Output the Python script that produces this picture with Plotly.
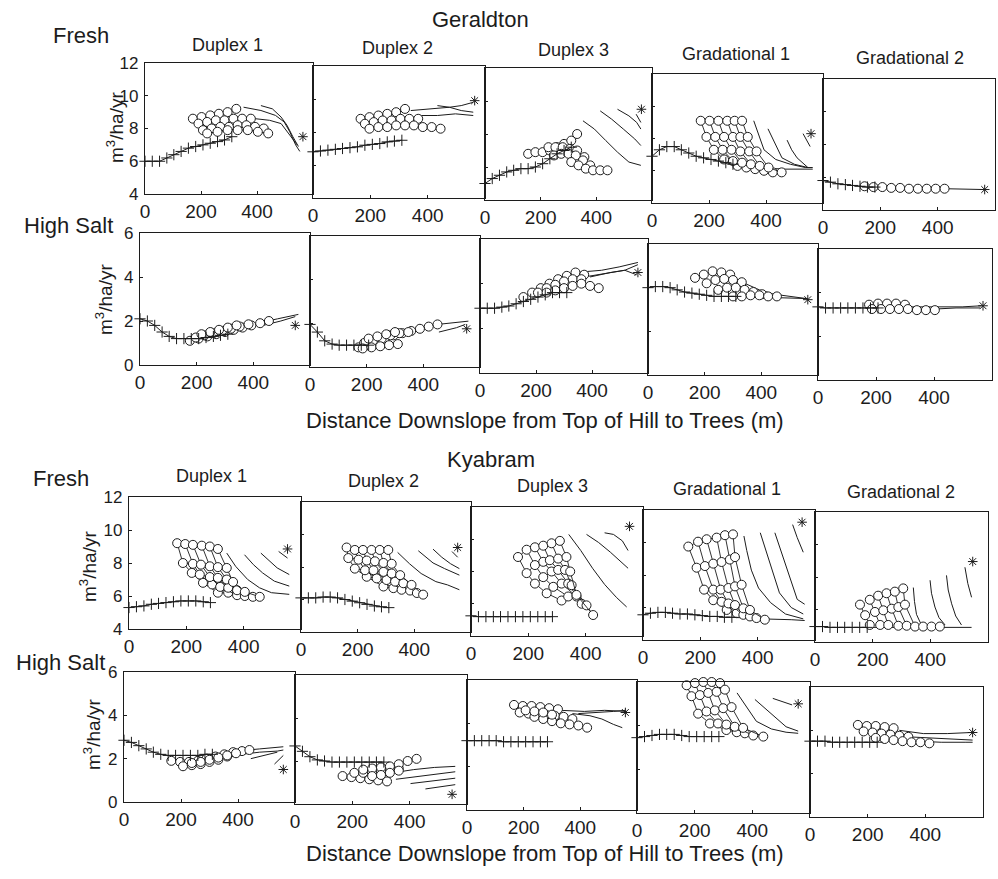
import plotly.graph_objects as go

# ---------------- data (x in m downslope, y in m3/ha/yr) ----------------
# Geraldton - Fresh
gf1_plus_x = [0, 26, 52, 78, 103, 129, 155, 181, 207, 233, 259, 284, 310]
gf1_plus_y = [6.0, 6.0, 6.0, 6.2, 6.4, 6.6, 6.8, 6.9, 7.0, 7.1, 7.2, 7.3, 7.5]
gf1_circ = [
    [[171, 202, 233, 264, 295, 326], [8.6, 8.7, 8.8, 8.9, 9.0, 9.2]],
    [[191, 222, 253, 284, 316, 347, 378], [8.3, 8.4, 8.5, 8.5, 8.6, 8.6, 8.6]],
    [[207, 238, 269, 300, 331, 362, 393, 424], [7.9, 8.0, 8.1, 8.1, 8.2, 8.2, 8.1, 8.0]],
    [[222, 259, 295, 331, 367, 403, 440], [7.7, 7.8, 7.9, 7.9, 7.9, 7.8, 7.7]],
]
gf1_line = [
    [[352, 414, 466, 497, 517, 538, 553], [9.3, 9.1, 8.8, 8.4, 7.8, 7.0, 6.6]],
    [[414, 455, 486, 507, 528, 548], [9.4, 9.2, 8.7, 8.2, 7.5, 6.9]],
    [[341, 393, 445, 486, 517, 543], [8.6, 8.6, 8.5, 8.3, 7.6, 7.0]],
]
gf1_star = [564, 7.5]

gf2_plus_x = [0, 26, 52, 78, 103, 129, 155, 181, 207, 233, 259, 284, 310]
gf2_plus_y = [6.8, 6.85, 6.9, 6.95, 7.0, 7.05, 7.1, 7.2, 7.25, 7.3, 7.4, 7.45, 7.5]
gf2_circ = [
    [[166, 197, 228, 259, 290, 321], [8.8, 8.9, 9.0, 9.1, 9.2, 9.4]],
    [[181, 212, 243, 274, 305, 336, 367], [8.5, 8.6, 8.7, 8.7, 8.8, 8.8, 8.8]],
    [[197, 228, 259, 290, 321, 352, 383, 414, 445], [8.2, 8.3, 8.3, 8.4, 8.4, 8.4, 8.3, 8.3, 8.2]],
]
gf2_line = [
    [[341, 414, 476, 517, 559], [9.3, 9.4, 9.5, 9.6, 9.8]],
    [[434, 476, 517, 559], [9.6, 9.5, 9.3, 9.2]],
    [[362, 434, 497, 559], [9.0, 9.0, 9.1, 9.0]],
]
gf2_star = [564, 9.9]

gf3_plus_x = [0, 26, 52, 78, 103, 129, 155, 181, 207, 233, 259, 284, 310]
gf3_plus_y = [5.0, 5.3, 5.5, 5.7, 5.8, 5.9, 5.9, 6.0, 6.2, 6.5, 6.8, 7.0, 7.2]
gf3_circ = [
    [[155, 181, 207, 233, 259, 284, 310, 331], [6.8, 6.9, 6.9, 7.0, 7.2, 7.4, 7.6, 8.0]],
    [[228, 253, 279, 305, 331, 357], [7.2, 7.2, 7.2, 7.1, 7.0, 6.6]],
    [[248, 274, 300, 326, 352, 378], [6.7, 6.8, 6.8, 6.7, 6.4, 6.1]],
    [[310, 336, 362, 388, 414, 440], [6.3, 6.1, 5.9, 5.8, 5.8, 5.8]],
]
gf3_line = [
    [[352, 393, 434, 476, 517, 560], [8.8, 8.3, 7.6, 6.9, 6.3, 6.1]],
    [[414, 455, 497, 538, 560], [9.4, 8.9, 8.3, 7.7, 7.3]],
    [[476, 517, 545, 560], [9.5, 9.1, 8.7, 8.3]],
    [[543, 555, 560], [9.2, 8.9, 8.7]],
]
gf3_star = [562, 9.5]

gf4_plus_x = [0, 26, 52, 78, 103, 129, 155, 181, 207, 233, 259, 284]
gf4_plus_y = [6.9, 7.3, 7.5, 7.5, 7.3, 7.1, 6.9, 6.8, 6.7, 6.6, 6.5, 6.4]
gf4_circ = [
    [[171, 191, 217, 253, 300], [9.1, 8.1, 7.3, 6.7, 6.3]],
    [[202, 222, 248, 284, 331], [9.1, 8.1, 7.3, 6.6, 6.2]],
    [[233, 253, 279, 316, 362], [9.1, 8.1, 7.3, 6.5, 6.1]],
    [[264, 284, 310, 347, 393], [9.1, 8.1, 7.2, 6.4, 6.0]],
    [[290, 310, 341, 378, 424], [9.1, 8.1, 7.2, 6.3, 5.9]],
    [[316, 336, 367, 409, 455], [9.1, 8.1, 7.2, 6.2, 5.9]],
]
gf4_line = [
    [[284, 362, 466, 564], [6.4, 6.2, 6.1, 6.1]],
    [[357, 372, 393, 434, 486, 538, 564], [9.1, 8.3, 7.3, 6.7, 6.4, 6.2, 6.2]],
    [[407, 431, 456, 500, 547], [8.6, 7.7, 6.8, 6.4, 6.2]],
    [[474, 490, 509, 547], [7.9, 7.3, 6.8, 6.2]],
    [[530, 555], [8.3, 7.5]],
]
gf4_star = [558, 8.3]

gf5_plus_x = [0, 26, 52, 78, 103, 129, 155, 181]
gf5_plus_y = [5.8, 5.7, 5.6, 5.55, 5.5, 5.45, 5.4, 5.4]
gf5_circ = [
    [[145, 176, 207, 238, 269, 300, 331, 362, 393, 424],
     [5.45, 5.4, 5.4, 5.35, 5.35, 5.3, 5.3, 5.3, 5.3, 5.3]],
]
gf5_line = [
    [[424, 497, 559], [5.3, 5.25, 5.25]],
]
gf5_star = [564, 5.25]

# Geraldton - High Salt
gs1_plus_x = [0, 26, 52, 78, 103, 129, 155, 181, 207, 233, 259, 284, 310]
gs1_plus_y = [2.1, 2.0, 1.8, 1.5, 1.3, 1.2, 1.2, 1.2, 1.2, 1.25, 1.3, 1.35, 1.4]
gs1_circ = [
    [[176, 207, 238, 269, 300, 331, 362, 393, 424, 455], [1.1, 1.2, 1.3, 1.4, 1.5, 1.6, 1.7, 1.8, 1.9, 2.0]],
    [[197, 228, 259, 290, 321, 352, 383], [1.25, 1.35, 1.45, 1.55, 1.65, 1.75, 1.85]],
    [[217, 248, 279, 310, 341], [1.4, 1.5, 1.6, 1.7, 1.8]],
]
gs1_line = [
    [[310, 414, 486, 559], [1.55, 1.9, 2.1, 2.3]],
    [[434, 497, 548], [1.8, 2.0, 2.2]],
]
gs1_star = [548, 1.8]

gs2_plus_x = [0, 26, 52, 78, 103, 129, 155, 181, 207]
gs2_plus_y = [1.95, 1.6, 1.2, 1.05, 1.0, 1.0, 1.0, 1.0, 1.0]
gs2_circ = [
    [[171, 202, 233, 264, 295, 326, 357, 388, 419, 450], [0.9, 1.0, 1.15, 1.3, 1.45, 1.55, 1.65, 1.75, 1.85, 1.95]],
    [[191, 222, 253, 284, 316, 347], [1.1, 1.2, 1.3, 1.45, 1.55, 1.6]],
    [[207, 238, 269, 300], [1.3, 1.4, 1.5, 1.6]],
    [[186, 217, 248, 279, 310], [0.85, 0.9, 0.95, 1.0, 1.05]],
]
gs2_line = [
    [[414, 486, 559], [1.9, 2.0, 2.1]],
    [[455, 517, 548], [1.6, 1.8, 1.95]],
]
gs2_star = [553, 1.75]

gs3_plus_x = [0, 26, 52, 78, 103, 129, 155, 181, 207, 233, 259, 284, 310]
gs3_plus_y = [2.9, 2.9, 2.9, 2.95, 3.0, 3.1, 3.2, 3.3, 3.4, 3.5, 3.6, 3.6, 3.6]
gs3_circ = [
    [[155, 186, 217, 248, 279, 310, 341, 372], [3.4, 3.6, 3.8, 4.0, 4.2, 4.35, 4.5, 4.4]],
    [[207, 238, 269, 300, 331, 362], [3.6, 3.8, 3.95, 4.1, 4.2, 4.2]],
    [[238, 269, 300, 331, 362, 393, 424], [3.6, 3.7, 3.8, 3.9, 4.0, 3.9, 3.8]],
]
gs3_line = [
    [[341, 434, 497, 564], [4.5, 4.6, 4.75, 4.95]],
    [[372, 445, 517, 564], [4.3, 4.45, 4.6, 4.85]],
    [[393, 466, 517, 559], [4.3, 4.5, 4.6, 4.4]],
]
gs3_star = [564, 4.5]

gs4_plus_x = [0, 26, 52, 78, 103, 129, 155, 181, 207, 233, 259, 284, 310]
gs4_plus_y = [4.0, 4.05, 4.05, 4.0, 3.9, 3.8, 3.75, 3.7, 3.65, 3.6, 3.6, 3.6, 3.6]
gs4_circ = [
    [[166, 197, 228, 259, 290], [4.45, 4.6, 4.75, 4.7, 4.6]],
    [[207, 238, 269, 300, 331], [4.2, 4.35, 4.4, 4.35, 4.25]],
    [[248, 279, 310, 341, 372, 403], [3.9, 4.0, 4.0, 3.9, 3.8, 3.7]],
    [[300, 331, 362, 393, 424, 455], [3.6, 3.6, 3.65, 3.65, 3.6, 3.6]],
]
gs4_line = [
    [[310, 414, 517, 564], [3.6, 3.55, 3.5, 3.5]],
    [[341, 393, 445, 497, 559], [4.2, 3.9, 3.7, 3.6, 3.5]],
]
gs4_star = [564, 3.45]

gs5_plus_x = [0, 26, 52, 78, 103, 129, 155, 181, 207]
gs5_plus_y = [3.35, 3.3, 3.3, 3.3, 3.3, 3.3, 3.3, 3.3, 3.3]
gs5_circ = [
    [[176, 207, 238, 269, 300], [3.45, 3.5, 3.5, 3.5, 3.45]],
    [[186, 217, 248, 279, 310, 341, 372, 403], [3.25, 3.25, 3.25, 3.25, 3.25, 3.2, 3.2, 3.2]],
]
gs5_line = [
    [[310, 414, 497, 564], [3.35, 3.35, 3.35, 3.4]],
    [[403, 476, 559], [3.25, 3.3, 3.3]],
]
gs5_star = [569, 3.4]

# Kyabram - Fresh
kf1_plus_x = [0, 26, 52, 78, 103, 129, 155, 181, 207, 233, 259, 284]
kf1_plus_y = [5.3, 5.35, 5.4, 5.5, 5.55, 5.6, 5.65, 5.7, 5.7, 5.7, 5.65, 5.6]
kf1_circ = [
    [[168, 188, 219, 258, 310], [9.2, 8.0, 7.4, 6.8, 6.2]],
    [[196, 223, 247, 290, 346], [9.15, 7.95, 7.3, 6.7, 6.2]],
    [[223, 251, 282, 318, 377], [9.1, 7.9, 7.15, 6.55, 6.05]],
    [[254, 282, 310, 346, 404], [9.05, 7.8, 7.1, 6.5, 6.0]],
    [[282, 310, 341, 377, 432], [9.0, 7.75, 7.0, 6.35, 5.95]],
    [[310, 341, 363, 404, 456], [8.85, 7.7, 6.85, 6.25, 5.95]],
]
kf1_line = [
    [[341, 372, 414, 455, 497, 559], [8.6, 7.8, 7.0, 6.5, 6.2, 6.1]],
    [[403, 434, 466, 507, 559], [8.5, 7.9, 7.4, 6.9, 6.6]],
    [[460, 491, 517, 559], [8.6, 8.1, 7.7, 7.3]],
    [[522, 553], [8.7, 8.3]],
]
kf1_star = [553, 8.85]

kf2_plus_x = [0, 26, 52, 78, 103, 129, 155, 181, 207, 233, 259, 284, 310]
kf2_plus_y = [6.1, 6.1, 6.1, 6.15, 6.15, 6.1, 6.0, 5.9, 5.8, 5.7, 5.6, 5.55, 5.5]
kf2_circ = [
    [[161, 167, 190, 232, 291], [9.2, 8.55, 7.9, 7.4, 6.8]],
    [[190, 203, 226, 267, 326], [9.05, 8.45, 7.8, 7.3, 6.7]],
    [[219, 232, 256, 302, 355], [9.05, 8.4, 7.8, 7.2, 6.6]],
    [[249, 261, 291, 332, 385], [9.05, 8.35, 7.7, 7.1, 6.55]],
    [[278, 291, 320, 361, 409], [9.05, 8.25, 7.6, 7.0, 6.4]],
    [[308, 320, 350, 390, 431], [9.05, 8.2, 7.5, 6.9, 6.3]],
]
kf2_line = [
    [[341, 383, 424, 476, 517, 559], [8.9, 8.2, 7.6, 7.1, 6.9, 6.6]],
    [[414, 466, 507, 559], [9.0, 8.25, 7.9, 7.5]],
    [[466, 497, 528, 559], [9.1, 8.6, 8.2, 7.9]],
    [[533, 553], [8.95, 8.6]],
]
kf2_star = [553, 9.2]

kf3_plus_x = [0, 26, 52, 78, 103, 129, 155, 181, 207, 233, 259, 284]
kf3_plus_y = [5.25, 5.2, 5.2, 5.2, 5.2, 5.2, 5.2, 5.2, 5.2, 5.2, 5.2, 5.2]
kf3_circ = [
    [[164, 194, 223, 264, 316], [8.9, 7.9, 7.25, 6.65, 6.2]],
    [[194, 223, 252, 287, 339], [9.35, 8.4, 7.65, 7.05, 6.45]],
    [[223, 252, 281, 316, 368], [9.5, 8.6, 8.0, 7.25, 6.45]],
    [[252, 275, 304, 339, 386], [9.6, 8.7, 8.1, 7.25, 6.0]],
    [[281, 304, 328, 351, 403], [9.75, 8.8, 8.1, 7.15, 5.9]],
    [[310, 333, 346, 368, 426], [9.9, 8.9, 8.0, 6.55, 5.3]],
]
kf3_line = [
    [[341, 383, 424, 466, 507, 543], [10.3, 9.3, 8.2, 7.2, 6.4, 5.8]],
    [[403, 445, 486, 528, 548], [10.3, 9.8, 9.2, 8.5, 8.2]],
    [[466, 497, 528, 548], [10.4, 10.3, 9.9, 9.3]],
]
kf3_star = [553, 10.8]

kf4_plus_x = [0, 26, 52, 78, 103, 129, 155, 181, 207, 233, 259, 284, 310]
kf4_plus_y = [5.55, 5.65, 5.7, 5.7, 5.65, 5.6, 5.6, 5.55, 5.5, 5.45, 5.45, 5.4, 5.4]
kf4_circ = [
    [[158, 187, 213, 245, 292], [9.75, 8.45, 7.1, 6.45, 5.85]],
    [[192, 216, 245, 274, 327], [10.05, 8.55, 7.1, 6.35, 5.65]],
    [[222, 245, 271, 298, 350], [10.2, 8.7, 7.1, 6.25, 5.55]],
    [[257, 274, 298, 321, 373], [10.3, 8.8, 7.2, 6.15, 5.45]],
    [[286, 303, 321, 350, 396], [10.45, 8.95, 7.3, 5.95, 5.35]],
    [[314, 321, 344, 373, 425], [10.5, 9.1, 7.4, 5.85, 5.25]],
]
kf4_line = [
    [[310, 414, 517, 564], [5.4, 5.3, 5.25, 5.2]],
    [[352, 362, 378, 403, 445, 497, 559], [10.4, 9.5, 8.3, 7.2, 6.3, 5.6, 5.3]],
    [[409, 429, 445, 476, 517, 559], [10.6, 9.5, 8.5, 6.9, 6.0, 5.6]],
    [[460, 486, 507, 538, 564], [10.6, 9.2, 8.2, 6.5, 6.2]],
    [[522, 538, 559], [11.1, 10.3, 9.4]],
]
kf4_star = [555, 11.25]

kf5_plus_x = [0, 26, 52, 78, 103, 129, 155, 181]
kf5_plus_y = [4.95, 4.95, 4.9, 4.9, 4.9, 4.9, 4.9, 4.9]
kf5_circ = [
    [[156, 174, 190], [6.3, 5.65, 5.05]],
    [[190, 208, 226], [6.6, 5.85, 5.05]],
    [[219, 237, 254], [6.85, 5.95, 5.05]],
    [[248, 266, 289], [7.0, 6.05, 5.0]],
    [[277, 289, 318], [7.1, 6.15, 5.0]],
    [[306, 312, 347], [7.3, 6.3, 4.95]],
]
kf5_circ_tail = [[375, 404, 433], [4.95, 4.95, 4.95]]
kf5_line = [
    [[181, 310, 434, 543], [4.9, 4.9, 4.9, 4.9]],
    [[341, 345, 352, 365, 381], [7.35, 6.5, 5.7, 5.2, 4.95]],
    [[399, 404, 416, 430, 451], [7.8, 7.0, 6.15, 5.5, 5.05]],
    [[456, 462, 474, 488, 508], [8.1, 7.2, 6.35, 5.6, 5.05]],
    [[520, 530, 543], [8.6, 7.6, 6.75]],
]
kf5_star = [547, 8.95]

# Kyabram - High Salt
ks1_plus_x = [0, 26, 52, 78, 103, 129, 155, 181, 207, 233, 259, 284, 310]
ks1_plus_y = [2.85, 2.75, 2.6, 2.45, 2.3, 2.2, 2.15, 2.15, 2.15, 2.15, 2.15, 2.2, 2.2]
ks1_circ = [
    [[166, 197, 228, 259, 290, 321, 352, 383, 414, 440], [1.9, 1.85, 1.85, 1.9, 2.0, 2.1, 2.2, 2.3, 2.35, 2.4]],
    [[207, 238, 269, 300, 331, 362], [1.65, 1.7, 1.75, 1.85, 1.95, 2.1]],
    [[238, 269, 300, 331, 362, 393], [1.8, 1.85, 1.95, 2.05, 2.15, 2.25]],
]
ks1_line = [
    [[310, 393, 476, 559], [2.2, 2.35, 2.45, 2.55]],
    [[414, 476, 538, 559], [2.2, 2.3, 2.35, 2.4]],
    [[445, 497, 538], [2.0, 2.15, 2.3]],
    [[528, 543, 559], [1.75, 1.95, 2.15]],
]
ks1_star = [559, 1.5]

ks2_plus_x = [0, 26, 52, 78, 103, 129, 155, 181, 207, 233, 259, 284, 310]
ks2_plus_y = [2.7, 2.45, 2.2, 2.05, 2.0, 1.95, 1.95, 1.95, 1.95, 1.95, 1.95, 1.95, 1.95]
ks2_circ = [
    [[166, 197, 228, 259, 290, 321], [1.3, 1.25, 1.2, 1.15, 1.1, 1.05]],
    [[207, 238, 269, 300, 331, 362], [1.45, 1.45, 1.5, 1.55, 1.6, 1.65]],
    [[238, 269, 300, 331, 362, 393, 424], [1.6, 1.65, 1.7, 1.75, 1.85, 2.0, 2.1]],
    [[269, 300, 331, 362], [1.3, 1.35, 1.45, 1.55]],
]
ks2_line = [
    [[341, 414, 486, 559], [1.45, 1.6, 1.7, 1.75]],
    [[352, 434, 497, 559], [1.15, 1.3, 1.4, 1.5]],
    [[403, 466, 517, 559], [0.95, 1.05, 1.15, 1.2]],
    [[455, 507, 559], [0.7, 0.8, 0.9]],
]
ks2_star = [548, 0.45]

ks3_plus_x = [0, 26, 52, 78, 103, 129, 155, 181, 207, 233, 259, 284]
ks3_plus_y = [3.2, 3.2, 3.2, 3.2, 3.2, 3.15, 3.15, 3.15, 3.15, 3.15, 3.15, 3.15]
ks3_circ = [
    [[166, 197, 228, 259, 290, 321], [4.85, 4.8, 4.8, 4.75, 4.7, 4.65]],
    [[186, 217, 248, 279, 310, 341, 372], [4.5, 4.45, 4.45, 4.4, 4.35, 4.3, 4.2]],
    [[238, 269, 300, 331, 362, 393, 424], [4.3, 4.2, 4.1, 4.0, 3.95, 3.9, 3.8]],
    [[207, 238, 269, 300], [4.6, 4.55, 4.5, 4.4]],
]
ks3_line = [
    [[331, 414, 486, 564], [4.6, 4.55, 4.6, 4.55]],
    [[393, 466, 517, 559], [4.45, 4.5, 4.55, 4.6]],
    [[372, 434, 476, 517, 548], [4.45, 4.35, 4.2, 3.95, 3.8]],
]
ks3_star = [559, 4.5]

ks4_plus_x = [0, 26, 52, 78, 103, 129, 155, 181, 207, 233, 259, 284]
ks4_plus_y = [3.45, 3.5, 3.55, 3.6, 3.6, 3.6, 3.55, 3.5, 3.5, 3.5, 3.5, 3.5]
ks4_circ = [
    [[172, 189, 212, 253, 310], [5.85, 5.35, 4.55, 4.1, 3.8]],
    [[201, 218, 241, 281, 346], [5.95, 5.4, 4.65, 4.1, 3.7]],
    [[230, 247, 270, 310, 374], [6.0, 5.5, 4.7, 4.05, 3.65]],
    [[259, 276, 299, 339, 403], [6.0, 5.55, 4.8, 3.95, 3.55]],
    [[288, 305, 328, 368, 438], [5.95, 5.65, 4.85, 3.9, 3.5]],
]
ks4_line = [
    [[347, 372, 414, 466, 517, 559], [5.5, 5.0, 4.2, 3.85, 3.7, 3.65]],
    [[409, 460, 517, 559], [5.2, 4.6, 3.95, 3.75]],
    [[471, 507, 538], [5.25, 5.1, 4.95]],
]
ks4_star = [559, 5.0]

ks5_plus_x = [0, 26, 52, 78, 103, 129, 155, 181, 207, 233]
ks5_plus_y = [3.5, 3.5, 3.5, 3.45, 3.45, 3.45, 3.45, 3.45, 3.45, 3.45]
ks5_circ = [
    [[166, 197, 228, 259, 290], [4.25, 4.2, 4.2, 4.15, 4.1]],
    [[186, 217, 248, 279, 310, 341], [3.95, 3.9, 3.85, 3.8, 3.75, 3.7]],
    [[228, 259, 290, 321, 352, 383, 414], [3.65, 3.6, 3.55, 3.5, 3.45, 3.45, 3.4]],
]
ks5_line = [
    [[310, 393, 476, 559], [4.0, 3.85, 3.85, 3.9]],
    [[341, 434, 517, 564], [3.7, 3.65, 3.6, 3.55]],
    [[372, 455, 538, 564], [3.5, 3.45, 3.45, 3.45]],
]
ks5_star = [564, 3.9]

panel_titles = ["Duplex 1", "Duplex 2", "Duplex 3", "Gradational 1", "Gradational 2"]
x_ticks = [0, 200, 400]
fresh_ticks = [4, 6, 8, 10, 12]
salt_ticks = [0, 2, 4, 6]

# --------------- panel table (built from the arrays above) ---------------
panels = [
    (gf1_plus_x, gf1_plus_y, gf1_circ, gf1_line, gf1_star, False),
    (gf2_plus_x, gf2_plus_y, gf2_circ, gf2_line, gf2_star, False),
    (gf3_plus_x, gf3_plus_y, gf3_circ, gf3_line, gf3_star, False),
    (gf4_plus_x, gf4_plus_y, gf4_circ, gf4_line, gf4_star, True),
    (gf5_plus_x, gf5_plus_y, gf5_circ, gf5_line, gf5_star, False),
    (gs1_plus_x, gs1_plus_y, gs1_circ, gs1_line, gs1_star, False),
    (gs2_plus_x, gs2_plus_y, gs2_circ, gs2_line, gs2_star, False),
    (gs3_plus_x, gs3_plus_y, gs3_circ, gs3_line, gs3_star, False),
    (gs4_plus_x, gs4_plus_y, gs4_circ, gs4_line, gs4_star, False),
    (gs5_plus_x, gs5_plus_y, gs5_circ, gs5_line, gs5_star, False),
    (kf1_plus_x, kf1_plus_y, kf1_circ, kf1_line, kf1_star, True),
    (kf2_plus_x, kf2_plus_y, kf2_circ, kf2_line, kf2_star, True),
    (kf3_plus_x, kf3_plus_y, kf3_circ, kf3_line, kf3_star, True),
    (kf4_plus_x, kf4_plus_y, kf4_circ, kf4_line, kf4_star, True),
    (kf5_plus_x, kf5_plus_y, kf5_circ + [kf5_circ_tail], kf5_line, kf5_star, False),
    (ks1_plus_x, ks1_plus_y, ks1_circ, ks1_line, ks1_star, False),
    (ks2_plus_x, ks2_plus_y, ks2_circ, ks2_line, ks2_star, False),
    (ks3_plus_x, ks3_plus_y, ks3_circ, ks3_line, ks3_star, False),
    (ks4_plus_x, ks4_plus_y, ks4_circ, ks4_line, ks4_star, True),
    (ks5_plus_x, ks5_plus_y, ks5_circ, ks5_line, ks5_star, False),
]

# --------------- layout geometry (pixels of the 998x879 page) ---------------
W, H = 998, 879
row_x = [
    [145, 313, 485, 652, 823, 995],
    [140, 310, 480, 648, 818, 992],
    [129, 301, 471, 643, 815, 988],
    [124, 295, 467, 637, 810, 983],
]
row_top = [
    [63, 66, 68, 74, 79],
    [233, 236, 239, 244, 249],
    [497, 502, 507, 510, 512],
    [672, 675, 680, 682, 687],
]
row_bot = [
    [194, 198, 200, 203, 210],
    [365, 367, 373, 375, 380],
    [629, 632, 636, 640, 642],
    [802, 804, 810, 813, 817],
]

INK = "#1c1c1c"
FONT = "Liberation Sans, Arial, Helvetica, sans-serif"

fig = go.Figure()
layout_axes = {}

for i, (px_, py_, circ, lines, star, grid) in enumerate(panels):
    n = i + 1
    r, c = divmod(i, 5)
    xa = "x" if n == 1 else f"x{n}"
    ya = "y" if n == 1 else f"y{n}"
    common = dict(xaxis=xa, yaxis=ya, showlegend=False, hoverinfo="skip", cliponaxis=False)

    for xs, ys in lines:
        fig.add_trace(go.Scatter(x=xs, y=ys, mode="lines",
                                 line=dict(color=INK, width=1), **common))
    if grid:
        m = len(circ[0][0])
        for k in range(m):
            fig.add_trace(go.Scatter(x=[cc[0][k] for cc in circ], y=[cc[1][k] for cc in circ],
                                     mode="lines", line=dict(color=INK, width=0.9), **common))
    for xs, ys in circ:
        fig.add_trace(go.Scatter(x=xs, y=ys, mode="lines+markers",
                                 line=dict(color=INK, width=0.9),
                                 marker=dict(symbol="circle", size=9, color="white",
                                             line=dict(color=INK, width=1)), **common))
    fig.add_trace(go.Scatter(x=px_, y=py_, mode="lines+markers",
                             line=dict(color=INK, width=1),
                             marker=dict(symbol="cross-thin", size=8, color=INK,
                                         line=dict(color=INK, width=1)), **common))
    fig.add_trace(go.Scatter(x=[star[0]], y=[star[1]], mode="markers",
                             marker=dict(symbol="asterisk", size=8, color=INK,
                                         line=dict(color=INK, width=1)), **common))

    x0, x1 = row_x[r][c], row_x[r][c + 1]
    yt, yb = row_top[r][c], row_bot[r][c]
    fresh = r in (0, 2)
    xkey = "xaxis" if n == 1 else f"xaxis{n}"
    ykey = "yaxis" if n == 1 else f"yaxis{n}"
    layout_axes[xkey] = dict(
        domain=[x0 / W, x1 / W], range=[0, 600], anchor=ya, automargin=False,
        tickmode="array", tickvals=x_ticks, ticks="inside", ticklen=3,
        tickcolor=INK, showline=True, linecolor=INK, linewidth=1.2, mirror=True,
        showgrid=False, zeroline=False, ticklabelstandoff=0,
        tickfont=dict(family=FONT, size=19, color=INK), fixedrange=True)
    layout_axes[ykey] = dict(
        domain=[1 - yb / H, 1 - yt / H], range=[4, 12] if fresh else [0, 6], anchor=xa,
        automargin=False,
        tickmode="array", tickvals=fresh_ticks if fresh else salt_ticks,
        ticks="inside", ticklen=3, tickcolor=INK, showline=True, linecolor=INK,
        linewidth=1.2, mirror=True, showgrid=False, zeroline=False,
        showticklabels=(c == 0), ticklabelstandoff=2,
        tickfont=dict(family=FONT, size=17, color=INK), fixedrange=True)

# --------------- text ---------------
def txt(s, x, y, size, angle=0):
    return dict(text=s, x=x / W, y=1 - y / H, xref="paper", yref="paper",
                xanchor="center", yanchor="middle", showarrow=False, textangle=angle,
                font=dict(family=FONT, size=size, color=INK))

ann = [
    txt("Geraldton", 480, 20, 22),
    txt("Fresh", 81, 35, 22),
    txt("High Salt", 68, 225, 22),
    txt("Distance Downslope from Top of Hill to Trees (m)", 545, 421, 22),
    txt("Kyabram", 491, 459, 22),
    txt("Fresh", 61, 478, 22),
    txt("High Salt", 60, 662, 22),
    txt("Distance Downslope from Top of Hill to Trees (m)", 545, 853, 22),
    txt("m<sup>3</sup>/ha/yr", 115, 128, 19, -90),
    txt("m<sup>3</sup>/ha/yr", 104, 300, 19, -90),
    txt("m<sup>3</sup>/ha/yr", 88, 567, 19, -90),
    txt("m<sup>3</sup>/ha/yr", 92, 735, 19, -90),
]
r1_pos = [(227, 45), (397, 48), (573, 50), (736, 54), (910, 58)]
r3_pos = [(211, 476), (383, 481), (552, 486), (727, 489), (901, 492)]
for t, (x, y) in zip(panel_titles, r1_pos):
    ann.append(txt(t, x, y, 18))
for t, (x, y) in zip(panel_titles, r3_pos):
    ann.append(txt(t, x, y, 18))

fig.update_layout(
    width=W, height=H, autosize=False,
    margin=dict(l=0, r=0, t=0, b=0, pad=0, autoexpand=False),
    paper_bgcolor="white", plot_bgcolor="white",
    font=dict(family=FONT, color=INK),
    annotations=ann, showlegend=False,
    **layout_axes,
)

fig.write_html("out.html", include_plotlyjs=True, config={"displayModeBar": False},
               post_script="document.body.style.margin='0px';document.body.style.overflow='hidden';")
